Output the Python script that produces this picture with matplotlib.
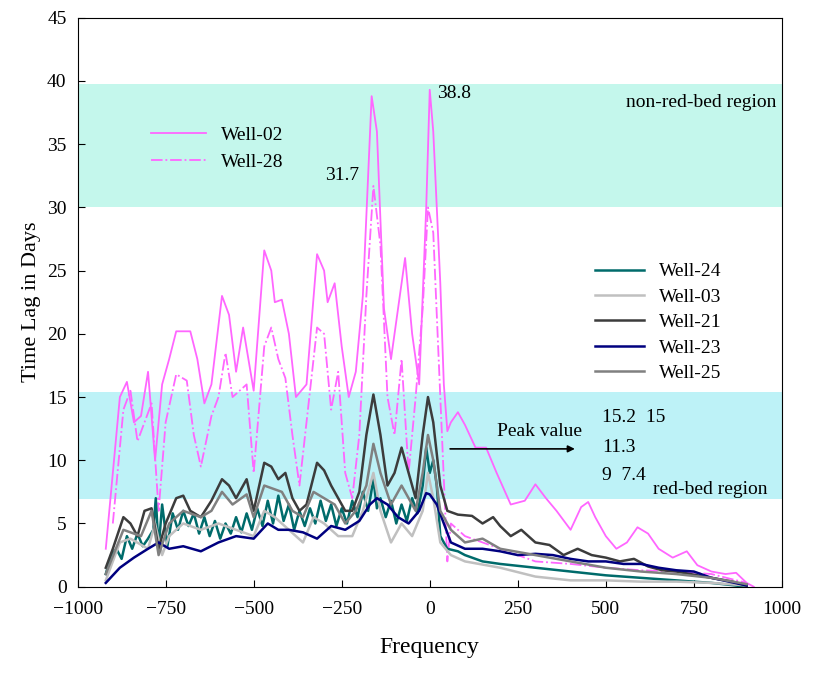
import matplotlib
matplotlib.use("Agg")
import matplotlib.pyplot as plt

plt.rcParams['font.family'] = ['Liberation Serif', 'DejaVu Serif']

w02_x = [-920,-880,-860,-840,-820,-800,-780,-760,-740,-720,-680,-660,-640,-620,-590,-570,-550,-530,-500,-470,-450,-440,-420,-400,-380,-350,-320,-300,-290,-270,-250,-230,-210,-190,-165,-150,-130,-110,-90,-70,-50,-30,-10,0,10,30,40,50,60,80,100,130,160,190,230,270,300,330,360,400,430,450,470,500,530,560,590,620,650,690,730,760,800,840,870,900,920]
w02_y = [3,15,16.2,13,13.5,17,10,16,18,20.2,20.2,18,14.5,16,23,21.5,17,20.5,15.5,26.6,25,22.5,22.7,20,15,16,26.3,25,22.5,24,19,15,17,23,38.8,36,22,18,22,26,20,16,30,39.3,36,24,16,12.3,13,13.8,12.8,11,11,9,6.5,6.8,8.1,7,6,4.5,6.3,6.7,5.5,4,3,3.5,4.7,4.2,3,2.3,2.8,1.7,1.2,1,1.1,0.3,0]

w28_x = [-900,-870,-850,-830,-810,-790,-770,-750,-720,-690,-670,-650,-620,-600,-580,-560,-540,-520,-500,-470,-450,-430,-410,-390,-370,-350,-320,-300,-280,-260,-240,-220,-200,-180,-160,-140,-120,-100,-80,-60,-40,-20,-5,10,30,50,60,100,150,200,300,400,500,600,700,800,900]
w28_y = [5,14,15.5,11.5,13,14.5,6,13,16.8,16.3,12,9.5,13.5,15,18.5,15,15.5,16,9,19,20.5,18,16.5,12,8,13,20.5,20,14,17,9,7,12,23,31.7,27,15,12,18,9,15,22,30,28,15,2,5,4,3.5,3,2,1.8,1.5,1.3,1.2,1,0.3]

w21_x = [-920,-900,-870,-850,-830,-810,-790,-770,-750,-720,-700,-680,-650,-620,-590,-570,-550,-520,-500,-470,-450,-430,-410,-390,-370,-350,-320,-300,-280,-260,-240,-220,-200,-180,-160,-140,-120,-100,-80,-60,-40,-20,-5,10,30,50,80,120,150,180,200,230,260,300,340,380,420,460,500,540,580,620,660,700,740,800,860,900]
w21_y = [1.5,3,5.5,5,4,6,6.2,3,5,7,7.2,6,5.5,6.8,8.5,8,7,8.5,6,9.8,9.5,8.5,9,7,6,6.5,9.8,9.2,8,7,6,6,7.5,12,15.2,12,8,9,11,9,7,12,15,13,8,6,5.7,5.6,5,5.5,4.8,4,4.5,3.5,3.3,2.5,3,2.5,2.3,2,2.2,1.6,1.3,1.2,1,0.7,0.4,0.1]

w25_x = [-920,-870,-820,-790,-770,-740,-700,-650,-620,-590,-560,-520,-500,-470,-450,-420,-390,-360,-330,-300,-270,-240,-210,-180,-160,-140,-110,-80,-60,-40,-20,-5,10,30,60,100,150,200,300,400,500,600,700,800,900]
w25_y = [1,4.5,4,6,2.5,5,6,5.5,6,7.5,6.5,7.3,5.5,8,7.8,7.5,6,5.5,7.5,7,6.5,5,6,8,11.3,9,6.5,8,7,6,9,12,10,6,4.5,3.5,3.8,3,2.5,2,1.5,1.2,1,0.7,0.2]

w03_x = [-920,-880,-850,-800,-780,-760,-740,-700,-650,-600,-550,-500,-470,-440,-400,-360,-330,-300,-260,-220,-190,-160,-140,-110,-80,-50,-20,-5,10,30,60,100,200,300,400,500,600,700,800,900]
w03_y = [0.5,3.5,3.8,3,5,2.5,4,5,4.5,5,4.5,4,6,5.5,4.5,3.5,5.5,5,4,4,6,9,6,3.5,5,4,6,9,7,3.5,2.5,2,1.5,0.8,0.5,0.5,0.4,0.4,0.3,0.1]

w24_x = [-920,-905,-890,-875,-860,-845,-830,-815,-800,-785,-778,-770,-760,-745,-730,-715,-700,-685,-670,-655,-640,-625,-610,-595,-580,-565,-550,-535,-520,-505,-490,-475,-460,-445,-430,-415,-400,-385,-370,-355,-340,-325,-310,-295,-280,-265,-250,-235,-220,-205,-190,-175,-160,-150,-140,-125,-110,-95,-80,-65,-50,-35,-20,-10,0,10,20,30,50,80,100,150,200,300,400,500,600,700,800,900]
w24_y = [1,2.5,3,2.2,4,3,4.2,3.2,3.8,4.5,7,3,6.5,3.2,5.8,4.5,6,4.8,5.8,4.2,5.5,4,5.2,3.8,5,4.2,5.5,4.3,5.8,4.5,6.2,4.8,6.8,5,7.2,5.2,6.5,4.5,6,4.8,6.2,5,6.8,5.2,6.5,4.8,6.2,5,6.8,5.5,7.5,6,8.5,6.2,7,5.5,6.8,5,6.5,5.2,7,5.8,8,11,9,10,8,4,3,2.8,2.5,2,1.8,1.5,1.2,0.9,0.7,0.5,0.3,0]

w23_x = [-920,-880,-840,-800,-770,-740,-700,-650,-600,-550,-500,-460,-430,-400,-360,-320,-280,-240,-200,-170,-150,-120,-90,-60,-30,-10,0,20,40,60,100,150,200,250,300,350,400,450,500,550,600,650,700,750,800,850,900]
w23_y = [0.3,1.5,2.3,3,3.5,3,3.2,2.8,3.5,4,3.8,5,4.5,4.5,4.3,3.8,4.8,4.5,5.2,6.5,7,6.5,5.5,5,6,7.4,7.3,6.5,5,3.5,3,3,2.8,2.5,2.6,2.5,2.2,2,2,1.8,1.8,1.5,1.3,1.2,0.7,0.4,0.1]

fig = plt.figure(figsize=(8.17, 6.83), dpi=100)
ax = fig.add_axes([0.095, 0.141, 0.862, 0.833])
ax.axhspan(30, 39.8, color='#c4f7ec', zorder=0, lw=0)
ax.axhspan(6.9, 15.4, color='#bdf2f7', zorder=0, lw=0)

mag = '#ff66ff'
l02, = ax.plot(w02_x, w02_y, color=mag, lw=1.3, label='Well-02')
l28, = ax.plot(w28_x, w28_y, color=mag, lw=1.3, ls='-.', label='Well-28')
l24, = ax.plot(w24_x, w24_y, color='#006b6b', lw=1.8, label='Well-24')
l03, = ax.plot(w03_x, w03_y, color='#c0c0c0', lw=1.8, label='Well-03')
l21, = ax.plot(w21_x, w21_y, color='#3c3c3c', lw=1.8, label='Well-21')
l23, = ax.plot(w23_x, w23_y, color='#00007f', lw=1.8, label='Well-23')
l25, = ax.plot(w25_x, w25_y, color='#808080', lw=1.8, label='Well-25')

leg1 = ax.legend(handles=[l02, l28], loc='upper left', bbox_to_anchor=(0.08, 0.84), frameon=False, fontsize=14, handlelength=2.8)
ax.add_artist(leg1)
ax.legend(handles=[l24, l03, l21, l23, l25], loc='upper left', bbox_to_anchor=(0.71, 0.60), frameon=False, fontsize=14, handlelength=2.5, labelspacing=0.4)

fs = 14
ax.text(20, 39.0, '38.8', fontsize=fs, va='center')
ax.text(-200, 32.5, '31.7', fontsize=fs, ha='right', va='center')
ax.text(985, 38.3, 'non-red-bed region', fontsize=fs, ha='right', va='center')
ax.annotate('', xy=(420, 10.9), xytext=(50, 10.9), arrowprops=dict(arrowstyle='-|>', color='black', lw=1.2))
ax.text(190, 12.3, 'Peak value', fontsize=fs, va='center')
ax.text(490, 13.4, '15.2  15', fontsize=fs, va='center')
ax.text(490, 11.0, '11.3', fontsize=fs, va='center')
ax.text(490, 8.8, '9  7.4', fontsize=fs, va='center')
ax.text(635, 7.7, 'red-bed region', fontsize=fs, va='center')

ax.set_xlim(-1000, 1000)
ax.set_ylim(0, 45)
ax.set_xticks(range(-1000, 1001, 250))
ax.set_xticklabels(['\u22121000', '\u2212750', '\u2212500', '\u2212250', '0', '250', '500', '750', '1000'])
ax.set_yticks(range(0, 46, 5))
ax.tick_params(direction='in', labelsize=14, length=5)
ax.tick_params(axis='x', pad=10)
ax.tick_params(axis='y', pad=8)
ax.set_xlabel('Frequency', fontsize=17, labelpad=14)
ax.set_ylabel('Time Lag in Days', fontsize=16)
fig.savefig('out.png', dpi=100)
